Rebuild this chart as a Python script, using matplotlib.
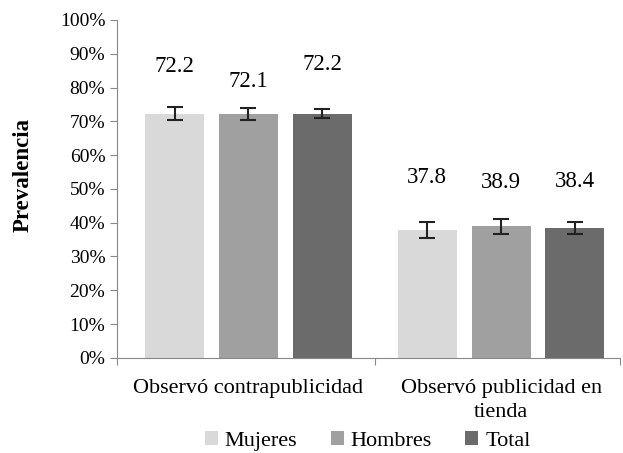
import numpy as np
import matplotlib.pyplot as plt
from matplotlib.ticker import PercentFormatter

# Datos
categorias = ["Observó contrapublicidad", "Observó publicidad en\ntienda"]
series = ["Mujeres", "Hombres", "Total"]
mujeres = [72.2, 37.8]
hombres = [72.1, 38.9]
total = [72.2, 38.4]
err_mujeres = [1.9, 2.3]
err_hombres = [1.8, 2.3]
err_total = [1.3, 1.7]

colores = ["#d9d9d9", "#a0a0a0", "#6b6b6b"]

plt.rcParams['font.family'] = ['Liberation Serif', 'DejaVu Serif']

fig = plt.figure(figsize=(6.23, 4.53), dpi=100)
ax = fig.add_axes([0.188, 0.21, 0.807, 0.746])

x = np.arange(len(categorias))
ancho = 0.233
paso = 0.292
valores = [mujeres, hombres, total]
errores = [err_mujeres, err_hombres, err_total]
# desplazamiento vertical de cada etiqueta (como quedaron en el original)
desp = [[13.9, 15.5], [9.6, 12.9], [14.5, 13.7]]

for i, (nombre, vals, errs, c) in enumerate(zip(series, valores, errores, colores)):
    pos = x + (i - 1) * paso
    ax.bar(pos, vals, width=ancho, color=c, label=nombre, zorder=2)
    ax.errorbar(pos, vals, yerr=errs, fmt='none', ecolor='#222222',
                elinewidth=1.5, capsize=6, capthick=1.5, zorder=3)
    for xp, v, d in zip(pos, vals, desp[i]):
        ax.text(xp, v + d, f"{v:.1f}", ha='center', va='center', fontsize=16.5)

ax.set_xlim(-0.52, 1.47)
ax.set_ylim(0, 100)
ax.set_yticks(np.arange(0, 101, 10))
ax.yaxis.set_major_formatter(PercentFormatter(decimals=0))
ax.set_xticks([-0.52, 0.5, 1.47], minor=False)
ax.set_xticklabels([])
ax.set_xticks(x, minor=True)
ax.set_xticklabels(categorias, minor=True, fontsize=16, linespacing=1.35)
ax.tick_params(axis='x', which='minor', length=0, pad=15)
ax.tick_params(axis='x', which='major', length=5, direction='out', color='#888888')
ax.tick_params(axis='y', labelsize=14, length=5, color='#888888')
ax.set_ylabel("Prevalencia", fontsize=16.5, fontweight='bold')
ax.yaxis.set_label_coords(-0.165, 0.54)

for s in ['top', 'right']:
    ax.spines[s].set_visible(False)
for s in ['left', 'bottom']:
    ax.spines[s].set_color('#888888')

fig.legend(loc='lower center', bbox_to_anchor=(0.59, -0.04), ncol=3, frameon=False,
           fontsize=16, handlelength=0.6, handleheight=0.6, handletextpad=0.3,
           columnspacing=1.5)

fig.savefig("out.png", dpi=100)
